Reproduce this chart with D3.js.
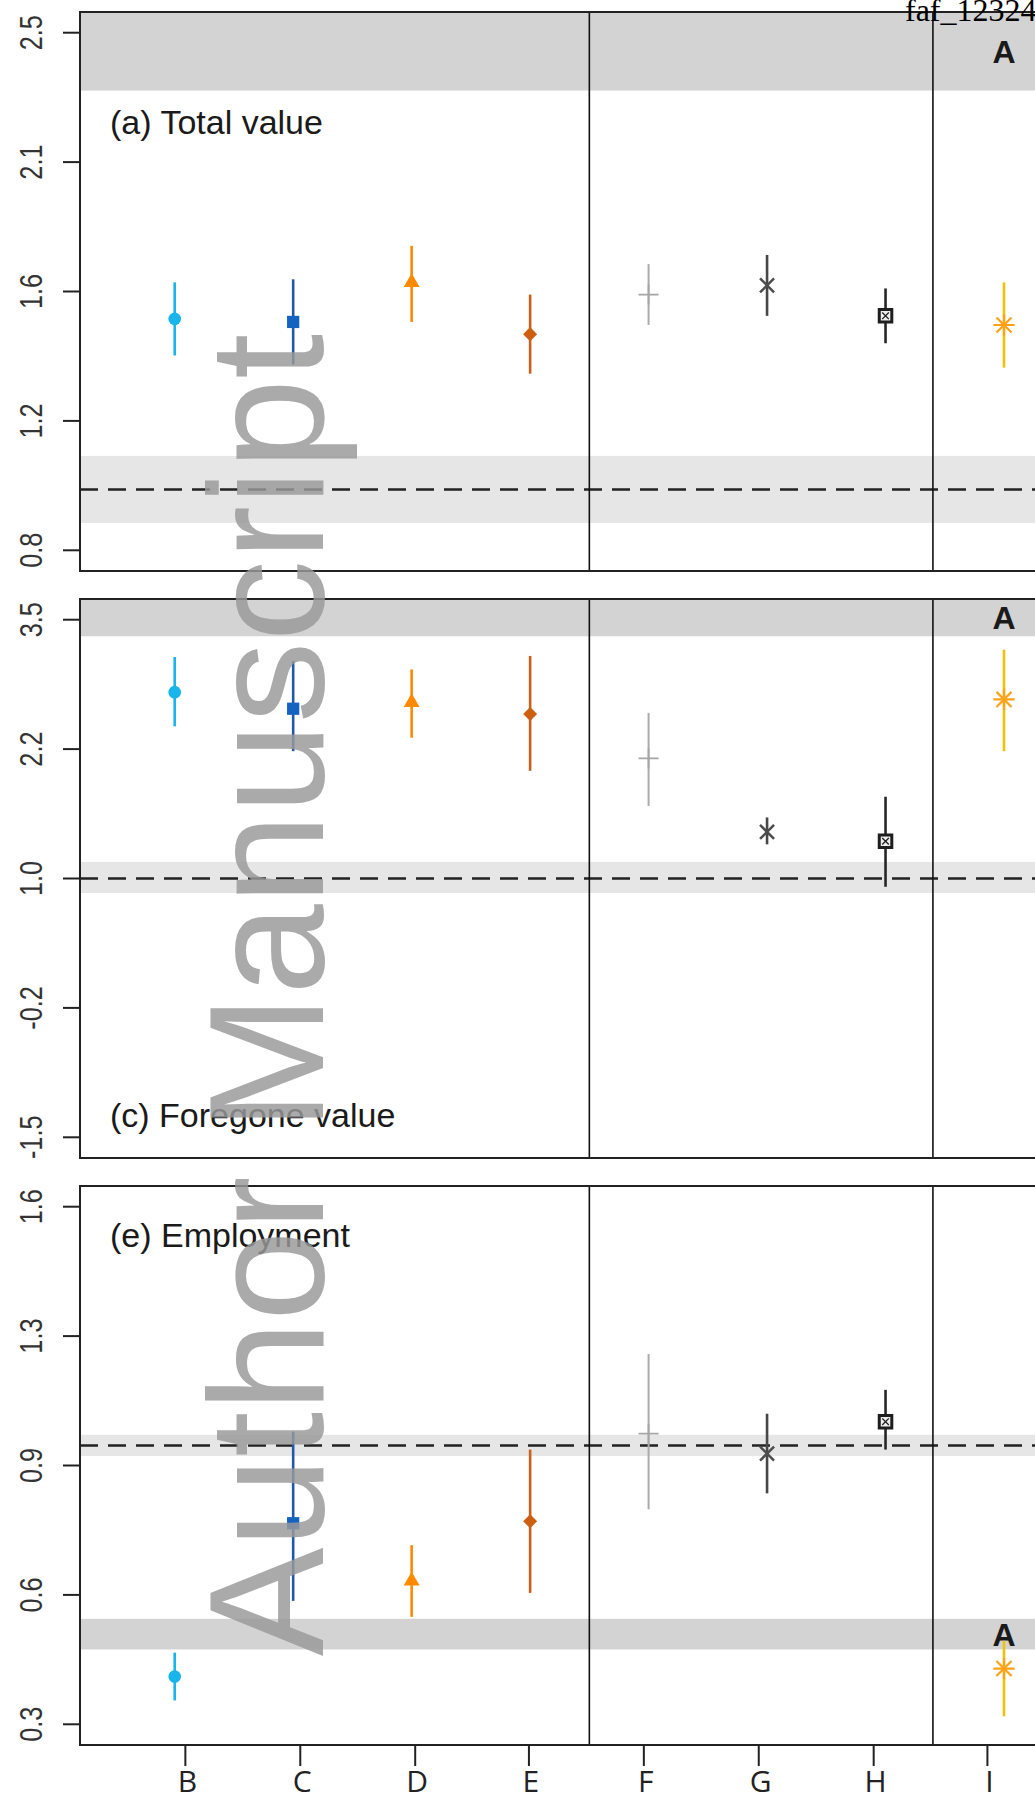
<!DOCTYPE html>
<html>
<head>
<meta charset="utf-8">
<script src="https://cdn.jsdelivr.net/npm/d3@7"></script>
<style>
  body { margin: 0; background: #fff; }
  svg { display: block; font-family: "Liberation Sans", Arial, sans-serif; }
</style>
</head>
<body>
<div id="chart"></div>
<script>
// categories along the x axis (markers sit at 1..8)
const categories = ["B", "C", "D", "E", "F", "G", "H", "I"];
const xTickAt = [1.09, 2.06, 3.03, 3.99, 4.96, 5.93, 6.90, 7.86];
const groupBreaks = [4.5, 7.4];

// (a) Total value
const totalEst = [1.56, 1.55, 1.68, 1.51, 1.64, 1.67, 1.57, 1.54];
const totalLo  = [1.44, 1.41, 1.55, 1.38, 1.54, 1.57, 1.48, 1.40];
const totalHi  = [1.68, 1.69, 1.80, 1.64, 1.74, 1.77, 1.66, 1.68];
const totalYlim = [0.8, 2.5];
const totalTicks = [0.8, 1.225, 1.65, 2.075, 2.5];
const totalTickLabels = ["0.8", "1.2", "1.6", "2.1", "2.5"];
const totalRefBand = [0.89, 1.11];
const totalABand = [2.31, 2.70];

// (c) Foregone value
const foreEst = [2.80, 2.64, 2.70, 2.59, 2.16, 1.45, 1.36, 2.73];
const foreLo  = [2.47, 2.23, 2.36, 2.04, 1.70, 1.33, 0.92, 2.23];
const foreHi  = [3.14, 3.10, 3.02, 3.15, 2.60, 1.59, 1.79, 3.21];
const foreYlim = [-1.5, 3.5];
const foreTicks = [-1.5, -0.25, 1.0, 2.25, 3.5];
const foreTickLabels = ["-1.5", "-0.2", "1.0", "2.2", "3.5"];
const foreRefBand = [0.86, 1.16];
const foreABand = [3.34, 3.80];

// (e) Employment
const empEst = [0.42, 0.805, 0.66, 0.81, 1.03, 0.98, 1.06, 0.44];
const empLo  = [0.36, 0.61, 0.57, 0.63, 0.84, 0.88, 0.99, 0.32];
const empHi  = [0.48, 1.035, 0.75, 0.99, 1.23, 1.08, 1.14, 0.51];
const empYlim = [0.3, 1.6];
const empTicks = [0.3, 0.625, 0.95, 1.275, 1.6];
const empTickLabels = ["0.3", "0.6", "0.9", "1.3", "1.6"];
const empRefBand = [0.974, 1.027];
const empABand = [0.488, 0.565];

const refValue = 1.0;

// marker style per category
const styles = [
  { shape: "circle",   fill: "#18b4ea", bar: "#18b4ea" },
  { shape: "square",   fill: "#1563c0", bar: "#2158a8" },
  { shape: "triangle", fill: "#ff8a00", bar: "#ff8a00" },
  { shape: "diamond",  fill: "#cc6010", bar: "#c8621a" },
  { shape: "plus",     fill: "#a6a6a6", bar: "#ababab", barWidth: 2 },
  { shape: "times",    fill: "#4d4d4d", bar: "#474747" },
  { shape: "boxx",     fill: "#1e1e1e", bar: "#262626" },
  { shape: "asterisk", fill: "#ffa21a", bar: "#f2c200" }
];

const panels = [
  { title: "(a) Total value", est: totalEst, lo: totalLo, hi: totalHi, ylim: totalYlim,
    ticks: totalTicks, labels: totalTickLabels, refBand: totalRefBand, aBand: totalABand, top: 12, titleY: 134 },
  { title: "(c) Foregone value", est: foreEst, lo: foreLo, hi: foreHi, ylim: foreYlim,
    ticks: foreTicks, labels: foreTickLabels, refBand: foreRefBand, aBand: foreABand, top: 599, titleY: 1127 },
  { title: "(e) Employment", est: empEst, lo: empLo, hi: empHi, ylim: empYlim,
    ticks: empTicks, labels: empTickLabels, refBand: empRefBand, aBand: empABand, top: 1186, titleY: 1247 }
];

const width = 1035, height = 1802;
const left = 80, right = 1104, panelHeight = 559;

const svg = d3.select("#chart").append("svg")
  .attr("width", width)
  .attr("height", height);

const x = d3.scaleLinear().domain([1, 8]).range([174.7, 1004]);

function drawMarker(g, shape, cx, cy, color) {
  const t = `translate(${cx},${cy})`;
  const filled = (type, size) => g.append("path").attr("transform", t)
    .attr("fill", color).attr("d", d3.symbol(type, size)());
  const stroked = (type, size, w) => g.append("path").attr("transform", t)
    .attr("fill", "none").attr("stroke", color).attr("stroke-width", w)
    .attr("d", d3.symbol(type, size)());

  if (shape === "circle") filled(d3.symbolCircle, 125);
  else if (shape === "square") filled(d3.symbolSquare, 150);
  else if (shape === "triangle") filled(d3.symbolTriangle, 110);
  else if (shape === "diamond") filled(d3.symbolDiamond2, 125);
  else if (shape === "plus") stroked(d3.symbolPlus, 132, 1.8);
  else if (shape === "times") stroked(d3.symbolTimes, 130, 2.5);
  else if (shape === "boxx") {
    g.append("path").attr("transform", t).attr("fill", "#eeeeee")
      .attr("stroke", color).attr("stroke-width", 3)
      .attr("d", d3.symbol(d3.symbolSquare2, 200)());
    stroked(d3.symbolTimes, 30, 1.3);
  } else if (shape === "asterisk") {
    stroked(d3.symbolPlus, 150, 2.2);
    stroked(d3.symbolTimes, 150, 2.2);
  }
}

panels.forEach((p, i) => {
  const span = p.ylim[1] - p.ylim[0];
  const y = d3.scaleLinear()
    .domain([p.ylim[0] - 0.04 * span, p.ylim[1] + 0.04 * span])
    .range([p.top + panelHeight, p.top]);

  const g = svg.append("g");
  const clipId = "clip" + i;
  g.append("clipPath").attr("id", clipId)
    .append("rect")
    .attr("x", left).attr("y", p.top)
    .attr("width", right - left).attr("height", panelHeight);

  const plot = g.append("g").attr("clip-path", `url(#${clipId})`);

  // shaded bands
  plot.append("rect")
    .attr("x", left).attr("width", right - left)
    .attr("y", y(p.refBand[1]))
    .attr("height", y(p.refBand[0]) - y(p.refBand[1]))
    .attr("fill", "#e6e6e6");
  plot.append("rect")
    .attr("x", left).attr("width", right - left)
    .attr("y", y(p.aBand[1]))
    .attr("height", y(p.aBand[0]) - y(p.aBand[1]))
    .attr("fill", "#d3d3d3");

  // reference line
  plot.append("line")
    .attr("x1", left).attr("x2", right)
    .attr("y1", y(refValue)).attr("y2", y(refValue))
    .attr("stroke", "#222").attr("stroke-width", 2.5)
    .attr("stroke-dasharray", "18,10");

  // group separators
  plot.selectAll("line.sep")
    .data(groupBreaks)
    .join("line")
    .attr("class", "sep")
    .attr("x1", d => x(d)).attr("x2", d => x(d))
    .attr("y1", p.top).attr("y2", p.top + panelHeight)
    .attr("stroke", "#111").attr("stroke-width", 1.6);

  // "A" label centred on the visible part of the band
  const bandTop = Math.max(y(p.aBand[1]), p.top);
  const bandBottom = Math.min(y(p.aBand[0]), p.top + panelHeight);
  g.append("text")
    .attr("x", x(8))
    .attr("y", (bandTop + bandBottom) / 2 + 11.5)
    .attr("text-anchor", "middle")
    .attr("font-weight", "bold")
    .attr("font-size", 32)
    .attr("fill", "#1a1a1a")
    .text("A");

  // frame (left, top, bottom)
  g.append("path")
    .attr("d", `M${right},${p.top}H${left}V${p.top + panelHeight}H${right}`)
    .attr("fill", "none")
    .attr("stroke", "#222")
    .attr("stroke-width", 2);

  // y axis ticks and rotated labels
  const yAxis = g.append("g");
  yAxis.selectAll("line")
    .data(p.ticks)
    .join("line")
    .attr("x1", left - 17).attr("x2", left)
    .attr("y1", d => y(d)).attr("y2", d => y(d))
    .attr("stroke", "#222").attr("stroke-width", 2);
  yAxis.selectAll("text")
    .data(p.ticks)
    .join("text")
    .attr("transform", d => `translate(42,${y(d)}) rotate(-90) scale(0.79,1)`)
    .attr("text-anchor", "middle")
    .attr("font-size", 32)
    .attr("fill", "#333")
    .text((d, k) => p.labels[k]);

  // error bars then markers
  const marks = g.append("g");
  categories.forEach((c, k) => {
    const s = styles[k];
    marks.append("line")
      .attr("x1", x(k + 1)).attr("x2", x(k + 1))
      .attr("y1", y(p.lo[k])).attr("y2", y(p.hi[k]))
      .attr("stroke", s.bar)
      .attr("stroke-width", s.barWidth || 2.6);
  });
  categories.forEach((c, k) => {
    drawMarker(marks, styles[k].shape, x(k + 1), y(p.est[k]), styles[k].fill);
  });

  // panel title
  g.append("text")
    .attr("x", 110)
    .attr("y", p.titleY)
    .attr("font-size", 34)
    .attr("fill", "#1a1a1a")
    .text(p.title);

  // x axis only under the last panel
  if (i === panels.length - 1) {
    const base = p.top + panelHeight;
    const xAxis = g.append("g");
    xAxis.selectAll("line")
      .data(xTickAt)
      .join("line")
      .attr("x1", d => x(d)).attr("x2", d => x(d))
      .attr("y1", base).attr("y2", base + 21)
      .attr("stroke", "#222").attr("stroke-width", 2);
    xAxis.selectAll("text")
      .data(xTickAt)
      .join("text")
      .attr("x", d => x(d) + 2)
      .attr("y", base + 47)
      .attr("text-anchor", "middle")
      .attr("font-family", "'Open Sans', sans-serif")
      .attr("font-size", 30)
      .attr("fill", "#222")
      .text((d, k) => categories[k]);
  }
});

// stamp in the top right corner
svg.append("text")
  .attr("x", 905)
  .attr("y", 21)
  .attr("font-family", "'Liberation Serif', serif")
  .attr("font-size", 32)
  .attr("fill", "#000")
  .text("faf_12324");

// watermark over everything
svg.append("text")
  .attr("transform", "translate(323,995) rotate(-90)")
  .attr("text-anchor", "middle")
  .attr("font-size", 163)
  .attr("fill", "#999")
  .attr("fill-opacity", 0.83)
  .text("Author Manuscript");
</script>
</body>
</html>
